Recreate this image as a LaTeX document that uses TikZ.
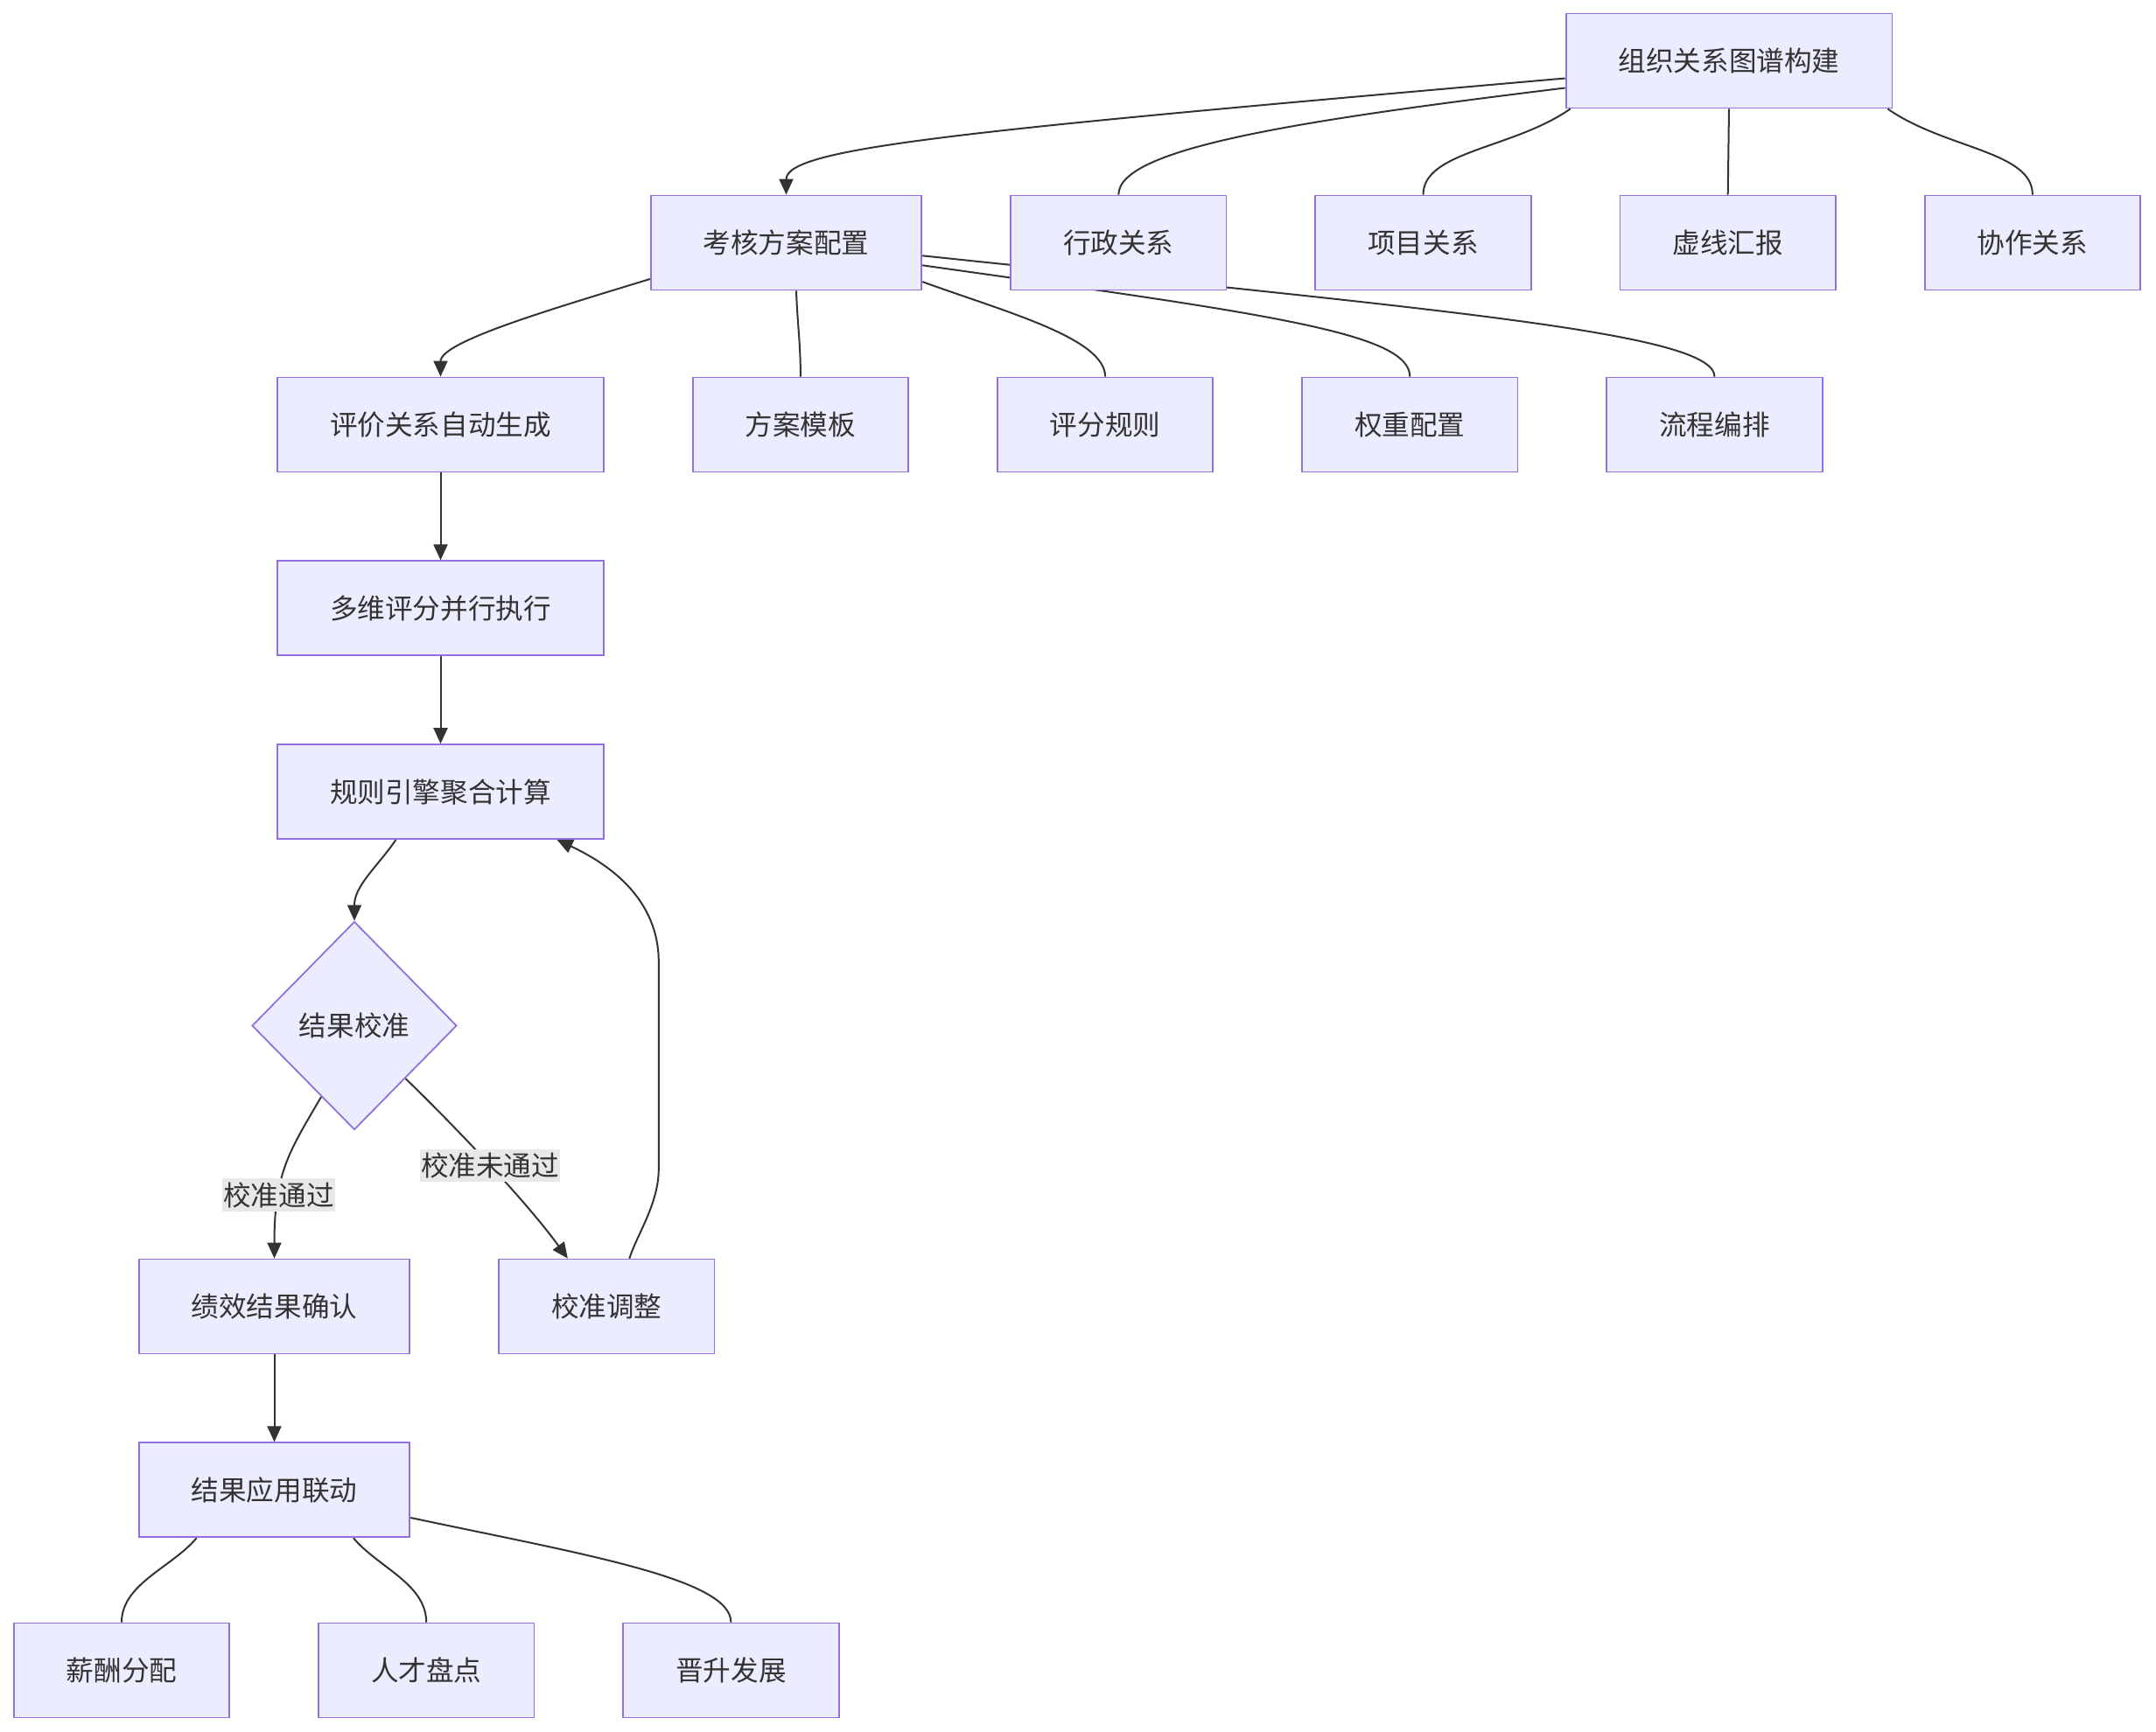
\documentclass[tikz,border=0pt]{standalone}
\usepackage{fontspec}
\newfontfamily\cjk{Noto Sans CJK SC}
\usepackage{tikz}
\usetikzlibrary{arrows.meta, positioning, shapes.geometric, backgrounds}
\definecolor{boxfill}{HTML}{ECECFF}
\definecolor{boxline}{HTML}{9370DB}
\definecolor{inkclr}{HTML}{333333}
\definecolor{lblbg}{HTML}{E8E8E8}
\tikzset{
  blkproc/.style = {draw=boxline, line width=0.9pt, fill=boxfill,
                    minimum height=54pt, inner xsep=30pt, text=inkclr,
                    font=\cjk\fontsize{15.8}{19}\selectfont},
  blkdec/.style  = {diamond, draw=boxline, line width=0.9pt, fill=boxfill,
                    minimum width=117pt, minimum height=119pt, inner sep=0pt,
                    text=inkclr, font=\cjk\fontsize{15.8}{19}\selectfont},
  flow/.style    = {-{Triangle[length=9pt, width=8pt]}, draw=inkclr, line width=1pt},
  conn/.style    = {draw=inkclr, line width=1pt},
  edgelbl/.style = {fill=lblbg, text=inkclr, inner xsep=0.5pt, inner ysep=2pt,
                    font=\cjk\fontsize{15.8}{19}\selectfont},
}

\begin{document}
\begin{tikzpicture}[node distance=50pt]
    \useasboundingbox (0,0) rectangle (1232pt,-990pt);

    \node[blkproc] (org) at (988pt,-34.75pt) {组织关系图谱构建};

    \node[blkproc] (plan) at (449.25pt,-138.75pt) {考核方案配置};
    \node[blkproc, right=of plan]   (admin)  {行政关系};
    \node[blkproc, right=of admin]  (proj)   {项目关系};
    \node[blkproc, right=of proj]   (dotted) {虚线汇报};
    \node[blkproc, right=of dotted] (collab) {协作关系};

    \node[blkproc] (gen) at (251.75pt,-242.75pt) {评价关系自动生成};
    \node[blkproc, right=of gen]    (tmpl)   {方案模板};
    \node[blkproc, right=of tmpl]   (rule)   {评分规则};
    \node[blkproc, right=of rule]   (weight) {权重配置};
    \node[blkproc, right=of weight] (proc)   {流程编排};

    \node[blkproc, below=of gen]    (score)  {多维评分并行执行};
    \node[blkproc, below=of score]  (agg)    {规则引擎聚合计算};
    \node[blkdec] (calib) at (202.5pt,-586.25pt) {结果校准};

    \node[blkproc] (confirm) at (156.75pt,-746.75pt) {绩效结果确认};
    \node[blkproc, right=of confirm] (adjust) {校准调整};
    \node[blkproc, below=of confirm] (apply)  {结果应用联动};

    \node[blkproc] (pay) at (69.5pt,-954.75pt) {薪酬分配};
    \node[blkproc, right=of pay]    (talent) {人才盘点};
    \node[blkproc, right=of talent] (promo)  {晋升发展};

    \coordinate (loopbot) at (376.4pt,-668pt);
    \coordinate (looptop) at (376.4pt,-550pt);

    \begin{scope}[on background layer]
    % graph build
    \draw[flow] ([yshift=-10pt]org.west) to[out=185, in=90, out distance=345pt, in distance=27pt] (plan.north);
    \draw[conn] ([yshift=-15.5pt]org.west) to[out=187, in=90, out distance=150pt, in distance=27pt] (admin.north);
    \draw[conn] ([xshift=3pt]org.south west) to[out=215, in=90, out distance=40pt, in distance=25pt] (proj.north);
    \draw[conn] (org.south) -- (dotted.north);
    \draw[conn] ([xshift=-3pt]org.south east) to[out=-35, in=90, out distance=40pt, in distance=25pt] (collab.north);

    % plan config
    \draw[flow] ([yshift=-20.75pt]plan.west) to[out=197, in=90, out distance=60pt, in distance=20pt] (gen.north);
    \draw[conn] ([xshift=5.75pt]plan.south) to[out=-88, in=90] (tmpl.north);
    \draw[conn] ([yshift=-22.3pt]plan.east) to[out=-20, in=90, out distance=50pt, in distance=22pt] (rule.north);
    \draw[conn] ([yshift=-12.9pt]plan.east) to[out=-8, in=90, out distance=200pt, in distance=25pt] (weight.north);
    \draw[conn] ([yshift=-7.4pt]plan.east) to[out=-6, in=90, out distance=300pt, in distance=25pt] (proc.north);

    \draw[flow] (gen) -- (score);
    \draw[flow] (score) -- (agg);
    \draw[flow] ([xshift=-25.5pt]agg.south) to[out=-125, in=90, out distance=20pt, in distance=20pt] (calib.north);
    \draw[flow] (calib.-115) to[out=-120, in=90, out distance=35pt, in distance=50pt]
        node[edgelbl, pos=0.7] (lblpass) {校准通过} (confirm.north);
    \draw[flow] (calib.-46) to[out=-44, in=126, out distance=40pt, in distance=40pt]
        node[edgelbl, pos=0.5] (lblfail) {校准未通过} ([xshift=-22.25pt]adjust.north);
    \draw[flow] ([xshift=13pt]adjust.north) to[out=72, in=-90, out distance=15pt, in distance=20pt] (loopbot)
        -- (looptop) to[out=90, in=-25, out distance=35pt, in distance=35pt] ([xshift=66.5pt]agg.south);
    \draw[flow] (confirm) -- (apply);

    % result usage
    \draw[conn] ([xshift=-44.4pt]apply.south) to[out=-130, in=90, out distance=22pt, in distance=22pt] (pay.north);
    \draw[conn] ([xshift=45.2pt]apply.south) to[out=-50, in=90, out distance=22pt, in distance=22pt] (talent.north);
    \draw[conn] ([yshift=-15.85pt]apply.east) to[out=-12, in=90, out distance=100pt, in distance=25pt] (promo.north);
    \end{scope}
  \end{tikzpicture}
\end{document}
